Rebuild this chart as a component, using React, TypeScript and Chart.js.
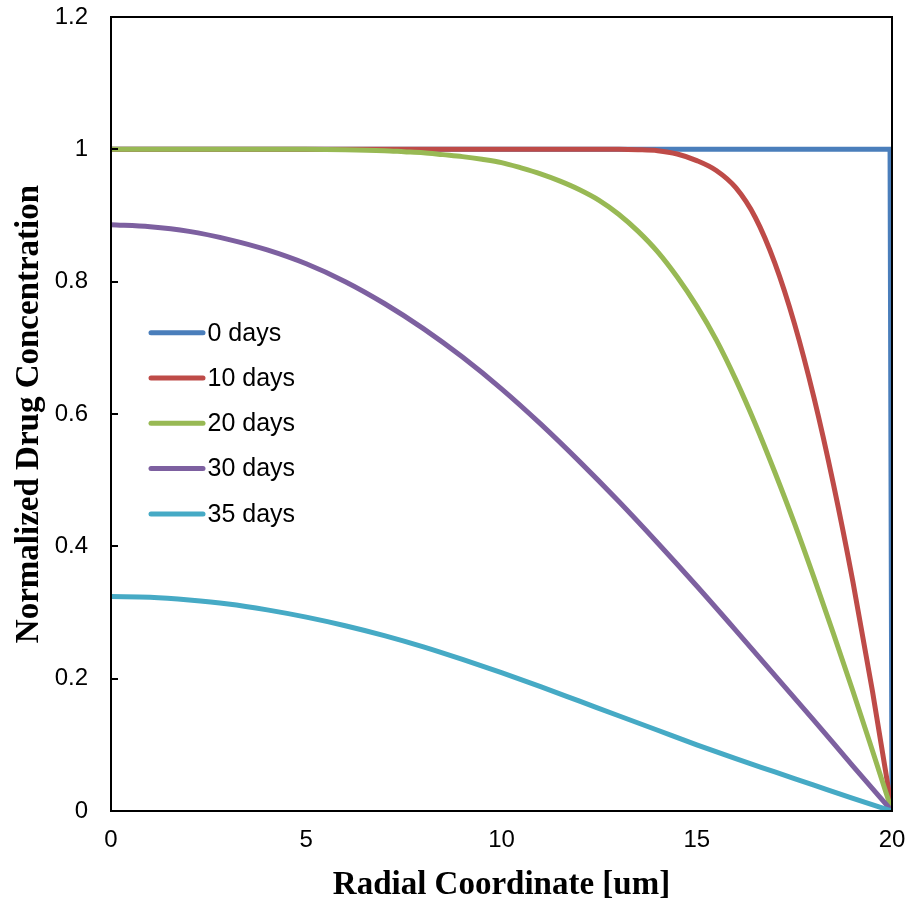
import React, { useEffect, useRef } from "react";
import { Chart, registerables } from "chart.js";

Chart.register(...registerables);

// ---- data ----
const radialGrid = [0, 1, 2, 3, 4, 5, 6, 7, 8, 9, 10, 11, 12, 13, 14, 15, 16, 17, 18, 19, 20];

const day0X = [0, 19.95, 20];
const day0Y = [1, 1, 0];

const day10X = [0, 5, 10, 12, 12.5, 13, 13.5, 14, 14.5, 15, 15.5, 16, 16.5, 17, 17.5, 18, 18.5, 19, 19.5, 20];
const day10Y = [1, 1, 1, 1, 1, 1, 0.9995, 0.998, 0.993, 0.983, 0.968, 0.942, 0.897, 0.828, 0.737, 0.625, 0.494, 0.346, 0.181, 0];

const day20X = [0, 2, 4, 5, 6, 7, 7.5, 8, 8.5, 9, 9.5, 10, 10.5, 11, 11.5, 12, 12.5, 13, 13.5, 14, 14.5, 15, 15.5, 16, 16.5, 17, 17.5, 18, 18.5, 19, 19.5, 20];
const day20Y = [1, 1, 1, 1, 0.9995, 0.998, 0.9965, 0.995, 0.992, 0.989, 0.985, 0.98, 0.972, 0.963, 0.952, 0.939, 0.923, 0.902, 0.876, 0.845, 0.807, 0.763, 0.712, 0.652, 0.585, 0.512, 0.435, 0.353, 0.268, 0.181, 0.091, 0];

const day30Y = [0.886, 0.883, 0.876, 0.864, 0.848, 0.827, 0.8, 0.767, 0.729, 0.686, 0.638, 0.585, 0.528, 0.468, 0.405, 0.34, 0.273, 0.205, 0.137, 0.068, 0];
const day35Y = [0.324, 0.323, 0.319, 0.313, 0.304, 0.293, 0.28, 0.265, 0.248, 0.229, 0.209, 0.188, 0.166, 0.144, 0.122, 0.1, 0.079, 0.059, 0.039, 0.019, 0];

const seriesLabels = ["0 days", "10 days", "20 days", "30 days", "35 days"];
const seriesColors = ["#4A7EBB", "#BE4B48", "#98B954", "#7D60A0", "#46AAC5"];

const xTitle = "Radial Coordinate [um]";
const yTitle = "Normalized Drug Concentration";

const pts = (xs: number[], ys: number[]) => xs.map((x, i) => ({ x, y: ys[i] }));

const framePlugin = {
  id: "frameAndTicks",
  afterDatasetsDraw(chart: any) {
    const { ctx, chartArea, scales } = chart;
    ctx.save();
    ctx.strokeStyle = "#000";
    ctx.lineWidth = 2;
    ctx.strokeRect(chartArea.left, chartArea.top, chartArea.right - chartArea.left, chartArea.bottom - chartArea.top);
    // inward y ticks
    const ys = scales.y;
    ys.ticks.forEach((t: any) => {
      const py = Math.round(ys.getPixelForValue(t.value));
      ctx.beginPath();
      ctx.moveTo(chartArea.left, py);
      ctx.lineTo(chartArea.left + 7, py);
      ctx.stroke();
    });
    // legend
    const rowStart = 315.7;
    const rowGap = 45.3;
    ctx.font = "25px 'Liberation Sans', Arial, sans-serif";
    ctx.textBaseline = "middle";
    ctx.textAlign = "left";
    ctx.lineCap = "round";
    seriesLabels.forEach((lab, i) => {
      const y = chartArea.top + rowStart + i * rowGap;
      ctx.strokeStyle = seriesColors[i];
      ctx.lineWidth = 5;
      ctx.beginPath();
      ctx.moveTo(chartArea.left + 40, y);
      ctx.lineTo(chartArea.left + 92, y);
      ctx.stroke();
      ctx.fillStyle = "#000";
      ctx.fillText(lab, chartArea.left + 96.5, y + 1);
    });
    ctx.restore();
  },
};

const zeroPad = (s: any) => {
  s.paddingTop = 0;
  s.paddingBottom = 0;
  s.paddingLeft = 0;
  s.paddingRight = 0;
};

export default function App() {
  const ref = useRef<HTMLCanvasElement | null>(null);

  useEffect(() => {
    if (!ref.current) return;
    const mk = (i: number, data: any[], order: number, tension: number) => ({
      label: seriesLabels[i],
      data,
      borderColor: seriesColors[i],
      backgroundColor: seriesColors[i],
      borderWidth: 5,
      pointRadius: 0,
      fill: false,
      order,
      tension,
      cubicInterpolationMode: tension ? "monotone" : "default",
    });
    const chart = new Chart(ref.current, {
      type: "line",
      data: {
        datasets: [
          mk(0, pts(day0X, day0Y), 5, 0),
          mk(1, pts(day10X, day10Y), 4, 0.4),
          mk(2, pts(day20X, day20Y), 3, 0.4),
          mk(3, pts(radialGrid, day30Y), 2, 0.4),
          mk(4, pts(radialGrid, day35Y), 1, 0.4),
        ] as any,
      },
      options: {
        responsive: false,
        animation: false,
        layout: { padding: { left: 0, top: 17, right: 19, bottom: 0 } },
        plugins: { legend: { display: false }, tooltip: { enabled: false } },
        scales: {
          x: {
            type: "linear",
            min: 0,
            max: 20,
            border: { display: false },
            grid: { display: false, drawTicks: false },
            ticks: {
              stepSize: 5,
              padding: 15,
              color: "#000",
              font: { family: "'Liberation Sans', Arial, sans-serif", size: 24 },
            },
            title: {
              display: true,
              text: xTitle,
              color: "#000",
              padding: { top: 0, bottom: 0 },
              font: { family: "'Liberation Serif', 'Times New Roman', serif", size: 33, weight: "bold" },
            },
            afterFit: (s: any) => {
              s.height = 94;
              zeroPad(s);
            },
          },
          y: {
            type: "linear",
            min: 0,
            max: 1.2,
            border: { display: false },
            grid: { display: false, drawTicks: false },
            ticks: {
              stepSize: 0.2,
              padding: 23,
              color: "#000",
              font: { family: "'Liberation Sans', Arial, sans-serif", size: 24 },
              callback: (v: any) => String(Number(Number(v).toFixed(1))),
            },
            title: {
              display: true,
              text: yTitle,
              color: "#000",
              padding: { top: 10, bottom: 0 },
              font: { family: "'Liberation Serif', 'Times New Roman', serif", size: 33, weight: "bold" },
            },
            afterFit: (s: any) => {
              s.width = 111;
              zeroPad(s);
            },
          },
        },
      },
      plugins: [framePlugin],
    });
    return () => chart.destroy();
  }, []);

  return (
    <div style={{ position: "fixed", left: 0, top: 0, width: 911, height: 905, background: "#fff" }}>
      <canvas ref={ref} width={911} height={905} style={{ width: 911, height: 905, display: "block" }} />
    </div>
  );
}
